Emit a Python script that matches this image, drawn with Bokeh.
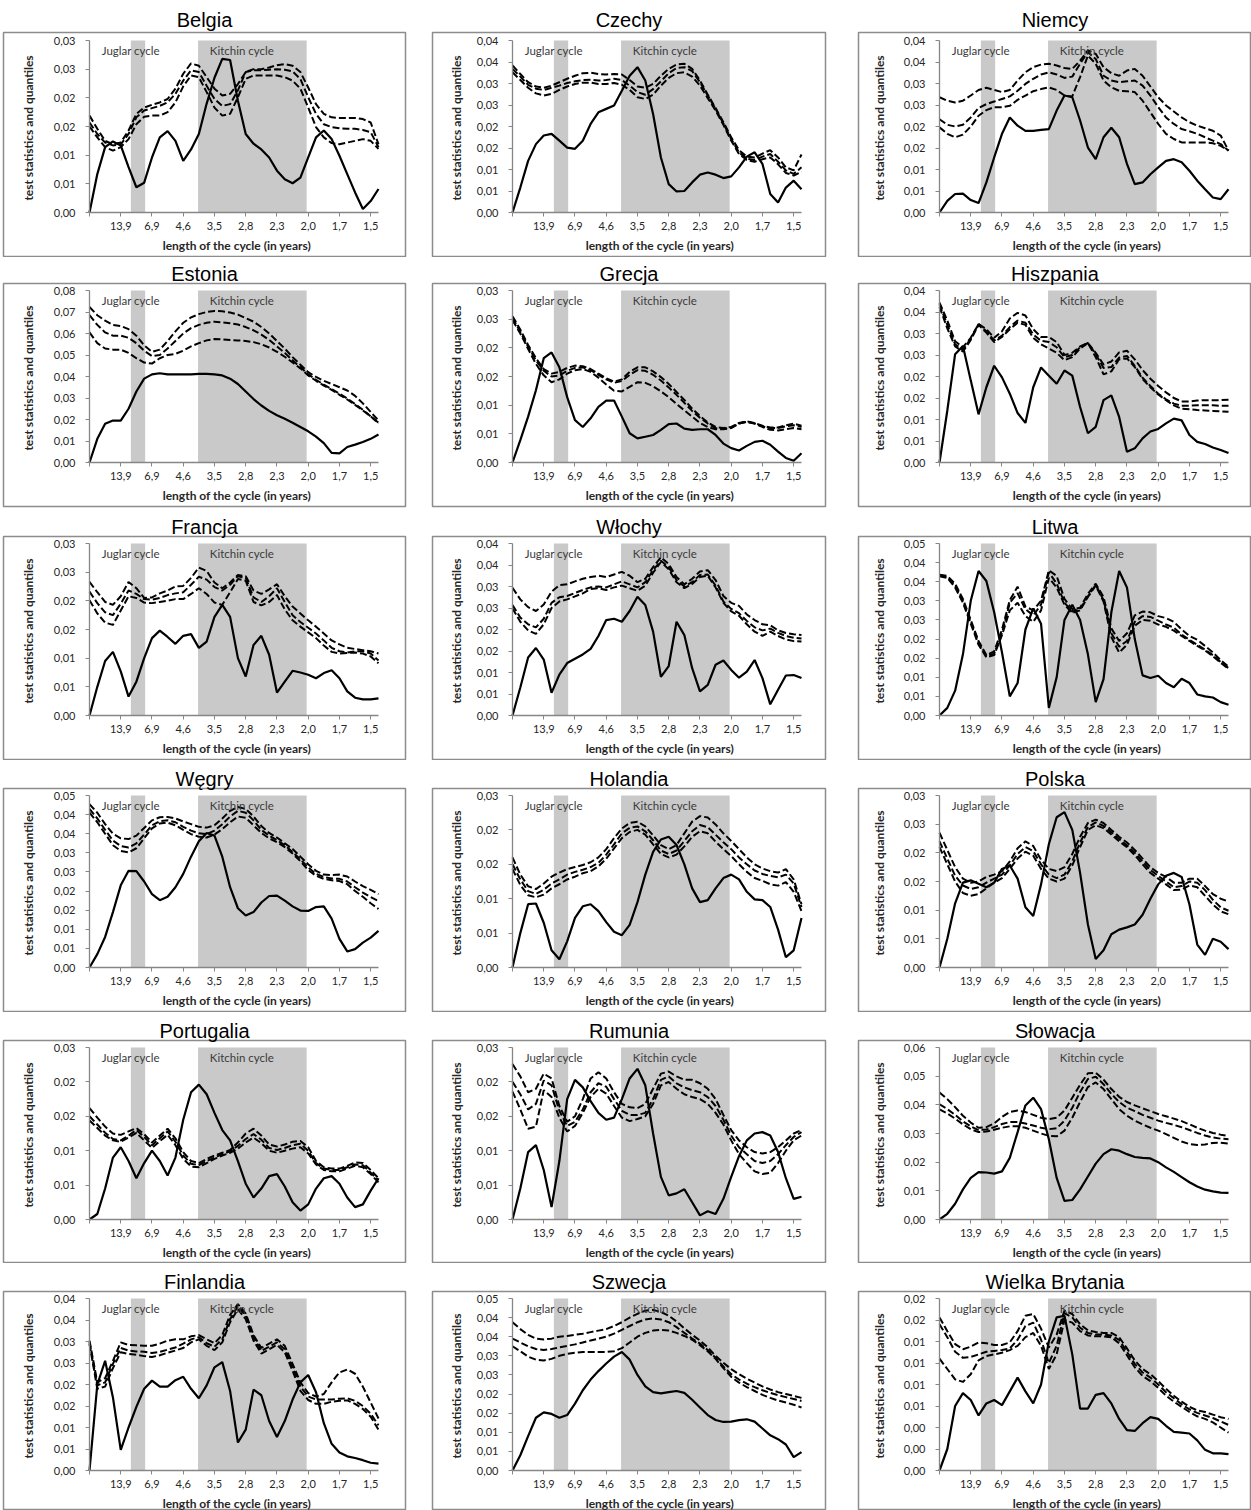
import math

from bokeh.plotting import figure
from bokeh.layouts import column, row
from bokeh.models import Range1d, FixedTicker, Label
from bokeh.embed import file_html
from bokeh.resources import INLINE

# ---------------------------------------------------------------------------
# Frequency grid (cycles per sample span) and the cycle-length axis labels
# ---------------------------------------------------------------------------
FREQ = [0, 0.25, 0.5, 0.75, 1, 1.25, 1.5, 1.75, 2, 2.25, 2.5, 2.75, 3, 3.25,
        3.5, 3.75, 4, 4.25, 4.5, 4.75, 5, 5.25, 5.5, 5.75, 6, 6.25, 6.5, 6.75,
        7, 7.25, 7.5, 7.75, 8, 8.25, 8.5, 8.75, 9, 9.25]
PERIOD_TICKS = [1, 2, 3, 4, 5, 6, 7, 8, 9]
PERIOD_LABELS = ["13,9", "6,9", "4,6", "3,5", "2,8", "2,3", "2,0", "1,7", "1,5"]
SPAN_YEARS = 13.9          # cycle length at frequency 1
JUGLAR_YEARS = (10.5, 7.8)
KITCHIN_YEARS = (4.0, 2.0)

# ---------------------------------------------------------------------------
# Test statistic (solid) and three quantile curves (dashed) per country
# ---------------------------------------------------------------------------
BELGIA_YMAX = 0.03
BELGIA_YTICKS = ["0,00", "0,01", "0,01", "0,02", "0,02", "0,03", "0,03"]
BELGIA_STAT = [0, .0067, .0114, .0124, .0117, .0079, .0044, .0052, .0096, .0131, .0142, .0125, .009, .011, .0137, .019, .0235, .0268, .0266, .0195, .0137, .012, .011, .0096, .0073, .0058, .0051, .0061, .0096, .0131, .0143, .0128, .0099, .0067, .0035, .0006, .002, .0041]
BELGIA_QUP = [.0169, .0146, .0125, .0119, .0122, .0143, .0172, .0183, .0188, .0192, .0198, .0216, .0242, .026, .0256, .0236, .0216, .0204, .0207, .0224, .0245, .025, .025, .0253, .0257, .0259, .0256, .0245, .0218, .0189, .0172, .0166, .0165, .0165, .0165, .0163, .0157, .0119]
BELGIA_QMID = [.0157, .0137, .0122, .0117, .0119, .0137, .0166, .0178, .0182, .0186, .0192, .0207, .023, .0248, .0245, .0221, .0198, .0186, .0189, .0213, .0245, .0248, .0248, .0249, .025, .0249, .0246, .0233, .0201, .0172, .0154, .0149, .0147, .0146, .0146, .0144, .014, .0114]
BELGIA_QLOW = [.015, .0131, .0114, .0108, .0114, .0128, .0154, .0167, .0169, .0169, .0175, .0192, .022, .0239, .0236, .021, .0183, .0169, .0172, .0201, .0233, .0239, .0239, .0239, .0239, .0236, .023, .0216, .0183, .0149, .0131, .0121, .0119, .0122, .0125, .0128, .0125, .0111]

CZECHY_YMAX = 0.04
CZECHY_YTICKS = ["0,00", "0,01", "0,01", "0,02", "0,02", "0,03", "0,03", "0,04", "0,04"]
CZECHY_STAT = [0, .0058, .012, .0159, .0179, .0183, .0167, .0151, .0148, .0167, .0206, .0233, .0241, .0249, .0283, .0318, .0338, .0307, .0229, .0128, .0066, .0049, .005, .007, .0088, .0093, .0088, .008, .0084, .0105, .013, .014, .0113, .0043, .0023, .0058, .0074, .0054]
CZECHY_QUP = [.0342, .0322, .0303, .0293, .029, .0295, .0303, .0311, .0318, .0324, .0325, .0322, .0321, .0322, .0321, .0308, .0293, .029, .0299, .0318, .0334, .0344, .0346, .0334, .0307, .0274, .0243, .021, .0175, .0145, .013, .0128, .0137, .0145, .0128, .0105, .0098, .0135]
CZECHY_QMID = [.0334, .0316, .0297, .0288, .0285, .029, .0295, .0301, .0305, .0308, .0309, .0307, .0308, .0311, .0308, .0295, .028, .0274, .0287, .0305, .0324, .0336, .0338, .0329, .0303, .0272, .0241, .0207, .0171, .014, .0125, .0122, .013, .0136, .0118, .0098, .009, .0105]
CZECHY_QLOW = [.0326, .0308, .029, .0277, .0272, .0276, .0285, .0293, .0299, .0302, .0302, .0299, .0299, .0301, .0297, .0285, .0268, .0264, .0274, .0295, .0313, .0324, .0326, .0316, .0295, .0266, .0237, .0204, .0167, .0136, .0122, .0118, .0124, .0128, .0112, .0092, .0086, .0095]

NIEMCY_YMAX = 0.04
NIEMCY_YTICKS = ["0,00", "0,01", "0,01", "0,02", "0,02", "0,03", "0,03", "0,04", "0,04"]
NIEMCY_STAT = [0, .0027, .0043, .0044, .0029, .0022, .007, .0128, .0183, .0221, .0202, .019, .019, .0192, .0194, .0237, .0272, .0268, .0214, .0151, .0124, .0175, .0197, .0175, .0113, .0066, .007, .0089, .0105, .012, .0124, .0117, .0097, .0074, .0054, .0035, .0031, .0054]
NIEMCY_QUP = [.0268, .026, .0256, .026, .0272, .0285, .029, .0285, .028, .0285, .0307, .0326, .0338, .0344, .0346, .0342, .0336, .0334, .0353, .0377, .0369, .0338, .0324, .0318, .033, .0334, .0318, .0293, .0268, .0249, .0235, .0221, .021, .0202, .0196, .019, .0179, .0144]
NIEMCY_QMID = [.0217, .0204, .02, .0204, .0221, .0243, .0252, .0258, .0264, .027, .0283, .0299, .0311, .0321, .0326, .0321, .0313, .0316, .0346, .0373, .0357, .0318, .0307, .0303, .0305, .0307, .0295, .0272, .0245, .0221, .0206, .0194, .0189, .0183, .0175, .0167, .0159, .0144]
NIEMCY_QLOW = [.0198, .0183, .0175, .0181, .02, .0225, .0238, .0245, .0245, .0248, .0262, .0272, .0282, .0287, .0291, .0285, .0272, .027, .0315, .0365, .0346, .0307, .0291, .0283, .0282, .028, .026, .0233, .0206, .0183, .0171, .0163, .0163, .0163, .0163, .0161, .0155, .0144]

ESTONIA_YMAX = 0.08
ESTONIA_YTICKS = ["0,00", "0,01", "0,02", "0,03", "0,04", "0,05", "0,06", "0,07", "0,08"]
ESTONIA_STAT = [0, .011, .018, .0195, .0195, .025, .033, .039, .041, .0415, .041, .041, .041, .041, .0412, .0412, .041, .0405, .039, .0365, .033, .0295, .0265, .024, .022, .0203, .0185, .0165, .0145, .012, .009, .0045, .0042, .0072, .0083, .0095, .011, .013]
ESTONIA_QUP = [.0723, .0685, .066, .064, .0635, .062, .059, .0545, .0515, .0525, .0565, .061, .065, .0675, .069, .07, .0705, .0703, .0698, .0688, .0672, .0655, .063, .06, .0565, .053, .049, .0455, .042, .0398, .038, .0365, .035, .0335, .031, .0275, .0235, .0195]
ESTONIA_QMID = [.0685, .064, .0605, .059, .059, .058, .0555, .052, .0495, .05, .053, .0565, .06, .0625, .064, .065, .0655, .0652, .0648, .0642, .063, .0615, .0595, .057, .054, .051, .0475, .0443, .041, .0385, .0362, .0342, .032, .0298, .0272, .0245, .0215, .0185]
ESTONIA_QLOW = [.0605, .0555, .053, .0525, .0525, .051, .0485, .0465, .046, .0485, .05, .0505, .052, .054, .0555, .0568, .0574, .0573, .057, .0568, .0565, .056, .055, .0535, .0515, .0492, .0465, .0438, .0405, .038, .0358, .0338, .0315, .0293, .0268, .0242, .0215, .0182]

GRECJA_YMAX = 0.03
GRECJA_YTICKS = ["0,00", "0,01", "0,01", "0,02", "0,02", "0,03", "0,03"]
GRECJA_STAT = [0, .0039, .008, .0126, .0182, .0192, .0166, .0114, .0074, .0062, .0077, .0097, .0108, .0108, .008, .0051, .0042, .0045, .0048, .0057, .0067, .0068, .0059, .0057, .0058, .0058, .0048, .0033, .0025, .0021, .0029, .0036, .0038, .0031, .0019, .0008, .0003, .0016]
GRECJA_QUP = [.0255, .0232, .0205, .0182, .0163, .0155, .0158, .0165, .0169, .0168, .0163, .0155, .0147, .0141, .0145, .0158, .0166, .0166, .0159, .0149, .0137, .0123, .0109, .0094, .0081, .007, .0062, .006, .0062, .0069, .0072, .0069, .0064, .0061, .0061, .0065, .0068, .0064]
GRECJA_QMID = [.0252, .0228, .0202, .0178, .016, .015, .0152, .016, .0165, .0166, .0161, .0153, .0145, .0139, .0142, .0153, .0161, .016, .0153, .0143, .0131, .0118, .0104, .009, .0078, .0068, .006, .0059, .0061, .0068, .0071, .0068, .0063, .006, .006, .0063, .0065, .0062]
GRECJA_QLOW = [.0248, .0225, .0198, .0172, .0152, .014, .0145, .0155, .0161, .0163, .0158, .0148, .0136, .0125, .0124, .0132, .014, .0139, .0133, .0124, .0114, .0102, .0091, .008, .0069, .0062, .0058, .0058, .006, .0068, .0071, .0068, .0062, .0057, .0056, .0058, .006, .0058]

HISZPANIA_YMAX = 0.04
HISZPANIA_YTICKS = ["0,00", "0,01", "0,01", "0,02", "0,02", "0,03", "0,03", "0,04", "0,04"]
HISZPANIA_STAT = [0, .0121, .0252, .0271, .0191, .0112, .0175, .0225, .0198, .016, .0115, .0092, .0175, .0221, .0202, .0183, .0214, .0202, .0129, .0068, .0083, .0145, .0156, .0106, .0025, .0033, .0056, .0072, .0078, .0091, .0102, .0098, .0064, .0048, .0043, .0035, .0029, .0022]
HISZPANIA_QUP = [.0372, .033, .0282, .0268, .029, .0322, .031, .029, .0305, .0335, .0348, .0342, .031, .0292, .0292, .028, .025, .0255, .027, .0278, .0255, .0228, .0235, .0256, .026, .024, .0215, .0195, .0178, .0163, .015, .0142, .0142, .0144, .0145, .0145, .0145, .0146]
HISZPANIA_QMID = [.0368, .032, .0275, .0262, .0288, .0322, .0305, .0284, .0295, .0315, .033, .0325, .0298, .0283, .028, .0268, .0245, .025, .0268, .0278, .0252, .022, .0222, .0244, .0248, .0225, .0197, .0178, .016, .0147, .0137, .0132, .0132, .0133, .0133, .0133, .0132, .0132]
HISZPANIA_QLOW = [.0362, .0312, .027, .0258, .0285, .032, .0302, .028, .0292, .031, .0325, .032, .029, .0275, .0265, .0255, .0238, .0245, .0265, .0278, .0245, .0205, .0212, .024, .0242, .0222, .0194, .0175, .0158, .0145, .0133, .0125, .0124, .0122, .0121, .012, .0119, .0118]

FRANCJA_YMAX = 0.03
FRANCJA_YTICKS = ["0,00", "0,01", "0,01", "0,02", "0,02", "0,03", "0,03"]
FRANCJA_STAT = [0, .005, .0095, .0111, .0077, .0033, .0059, .01, .0135, .0148, .0137, .0125, .0139, .0142, .0118, .0129, .0172, .0193, .0172, .01, .0068, .0123, .0139, .0106, .004, .0059, .0078, .0075, .0071, .0065, .0074, .0079, .0065, .0042, .0031, .0028, .0028, .003]
FRANCJA_QUP = [.0233, .0215, .0198, .0193, .0208, .0233, .0222, .0205, .0206, .0213, .0218, .0225, .0226, .024, .0258, .0252, .0232, .0222, .0232, .0245, .0243, .0218, .0212, .022, .0229, .0208, .019, .0178, .0166, .0155, .0143, .0131, .0124, .0118, .0116, .0114, .0112, .0108]
FRANCJA_QMID = [.0216, .0196, .018, .0175, .0195, .0218, .0212, .0203, .0202, .0205, .021, .0213, .0215, .0228, .0242, .0237, .0224, .0218, .0228, .0243, .024, .0206, .0198, .0208, .0222, .0198, .0175, .0163, .0153, .0143, .0131, .0118, .0112, .011, .0112, .0112, .0108, .0096]
FRANCJA_QLOW = [.0201, .0178, .0162, .0158, .0183, .0208, .0205, .0197, .0196, .0198, .02, .0203, .0203, .0212, .0222, .0212, .0197, .0193, .0215, .0238, .0235, .0198, .0192, .0198, .021, .0185, .0166, .0155, .0145, .0135, .0122, .0111, .0108, .0109, .011, .0108, .0103, .0091]

WLOCHY_YMAX = 0.04
WLOCHY_YTICKS = ["0,00", "0,01", "0,01", "0,02", "0,02", "0,03", "0,03", "0,04", "0,04"]
WLOCHY_STAT = [0, .0065, .0135, .0157, .013, .0053, .0095, .0122, .0132, .0142, .0155, .0185, .0222, .0225, .0218, .0243, .0276, .0257, .0195, .009, .0115, .0218, .0187, .011, .0056, .0071, .0118, .0128, .0106, .0088, .0102, .0129, .0087, .0026, .006, .0093, .0094, .0087]
WLOCHY_QUP = [.0297, .027, .0252, .0243, .0258, .0288, .0303, .0305, .0312, .0318, .0322, .0325, .0322, .0328, .0334, .0325, .031, .0318, .0345, .0368, .0352, .0322, .0305, .0318, .0335, .0338, .0315, .0278, .0262, .0255, .0235, .0222, .0212, .021, .0198, .0192, .0189, .0187]
WLOCHY_QMID = [.0257, .0228, .0212, .0205, .0225, .0262, .0275, .0278, .0285, .0292, .0298, .03, .0298, .0305, .0312, .0305, .0298, .031, .0338, .036, .0345, .0315, .03, .031, .0327, .0328, .0302, .0265, .0248, .0238, .022, .0205, .0198, .0202, .0192, .0185, .0181, .0179]
WLOCHY_QLOW = [.0249, .0218, .0198, .019, .0212, .025, .0265, .027, .0277, .0284, .0294, .0296, .0292, .0298, .0302, .0296, .029, .0302, .0332, .0357, .034, .031, .0296, .0306, .0322, .0325, .0298, .0262, .0242, .0232, .0212, .0195, .0185, .0195, .0185, .0177, .0173, .0172]

LITWA_YMAX = 0.045
LITWA_YTICKS = ["0,00", "0,01", "0,01", "0,02", "0,02", "0,03", "0,03", "0,04", "0,04", "0,05"]
LITWA_STAT = [0, .002, .0065, .016, .03, .0378, .0352, .027, .0165, .005, .0085, .0225, .028, .024, .002, .01, .025, .029, .025, .016, .0035, .0095, .027, .0378, .0335, .02, .0105, .0098, .0104, .0085, .0074, .0096, .0085, .0055, .005, .0047, .0035, .0028]
LITWA_QUP = [.0368, .0365, .0345, .0305, .025, .0195, .0158, .0168, .0225, .0302, .0337, .0285, .0275, .03, .038, .0365, .0305, .0278, .0282, .0318, .0345, .031, .0228, .0195, .0215, .0262, .0272, .027, .026, .0255, .0245, .0225, .0208, .0198, .0182, .0165, .0145, .0128]
LITWA_QMID = [.0366, .0362, .034, .03, .0245, .019, .0155, .0162, .0215, .0295, .032, .0278, .0262, .029, .0375, .0345, .0295, .0272, .0278, .0312, .0342, .0302, .0215, .018, .0195, .0245, .026, .0258, .0248, .0238, .023, .0212, .0198, .0185, .0172, .0158, .014, .0124]
LITWA_QLOW = [.0364, .036, .0335, .0295, .024, .0185, .0152, .0158, .021, .0275, .0295, .026, .0245, .0275, .036, .0335, .029, .0268, .0275, .031, .034, .0298, .0205, .0165, .0185, .0235, .025, .0248, .0238, .0232, .0222, .0208, .0195, .0182, .017, .0155, .0138, .0122]

WEGRY_YMAX = 0.045
WEGRY_YTICKS = ["0,00", "0,01", "0,01", "0,02", "0,02", "0,03", "0,03", "0,04", "0,04", "0,05"]
WEGRY_STAT = [0, .0035, .008, .0145, .0215, .0253, .0252, .0225, .0192, .0176, .0185, .021, .0245, .029, .033, .0352, .0345, .029, .021, .0155, .0136, .0145, .017, .0187, .0188, .0175, .016, .0149, .0148, .0158, .016, .0128, .0075, .0042, .0048, .0065, .0078, .0096]
WEGRY_QUP = [.0427, .0405, .0375, .035, .0338, .0336, .0345, .0365, .0385, .0393, .0394, .039, .0382, .0375, .0368, .0366, .0372, .039, .041, .042, .0415, .0395, .037, .0352, .034, .0325, .031, .029, .027, .0253, .0243, .0242, .0243, .0238, .0225, .0213, .0203, .0192]
WEGRY_QMID = [.0415, .039, .036, .0332, .0318, .0314, .0325, .0348, .0372, .0383, .0385, .038, .0368, .0358, .0351, .0349, .0358, .0375, .0395, .041, .0405, .0385, .036, .0345, .0333, .032, .0302, .0283, .0262, .0245, .0237, .0233, .0232, .0225, .021, .0196, .0184, .0174]
WEGRY_QLOW = [.0405, .038, .035, .032, .0305, .0301, .0312, .0338, .0364, .0377, .0379, .0372, .036, .0349, .0342, .034, .0348, .0362, .038, .0395, .0392, .0372, .0352, .0338, .0328, .0315, .0298, .0278, .0255, .024, .0232, .0228, .0226, .0218, .02, .0185, .0168, .0153]

HOLANDIA_YMAX = 0.025
HOLANDIA_YTICKS = ["0,00", "0,01", "0,01", "0,02", "0,02", "0,03"]
HOLANDIA_STAT = [0, .005, .0092, .0093, .0065, .0025, .0012, .0038, .0072, .0089, .0092, .0082, .0066, .0052, .0047, .0062, .0095, .0135, .0168, .0186, .019, .0178, .015, .0115, .0095, .0098, .0115, .013, .0135, .0128, .011, .0099, .0098, .0088, .0055, .0015, .0025, .0072]
HOLANDIA_QUP = [.016, .0135, .0118, .0114, .0122, .0132, .0138, .0143, .0146, .0149, .0153, .016, .0172, .0188, .0202, .021, .0212, .0205, .0192, .0178, .0172, .0178, .0195, .0212, .022, .0218, .0208, .0195, .0184, .0172, .016, .015, .0144, .014, .0138, .0143, .0128, .0092]
HOLANDIA_QMID = [.015, .0128, .0111, .0107, .0113, .0122, .0128, .0135, .0139, .0142, .0146, .0152, .0164, .0179, .0195, .0203, .0205, .0198, .0185, .017, .0165, .017, .0184, .0198, .0207, .0204, .0193, .0182, .0172, .016, .015, .0141, .0136, .0133, .0131, .0135, .0122, .0088]
HOLANDIA_QLOW = [.0143, .012, .0105, .0102, .0106, .0115, .0121, .0128, .0132, .0137, .014, .0147, .0158, .0173, .0188, .0197, .02, .0193, .0179, .0165, .016, .0164, .0176, .019, .0198, .0195, .0183, .0172, .0162, .015, .0139, .013, .0126, .0121, .0119, .0124, .011, .0082]

POLSKA_YMAX = 0.03
POLSKA_YTICKS = ["0,00", "0,01", "0,01", "0,02", "0,02", "0,03", "0,03"]
POLSKA_STAT = [0, .005, .0112, .0148, .0152, .0146, .014, .0148, .0172, .0178, .0155, .0105, .009, .0145, .0215, .0262, .0271, .024, .0165, .0075, .0015, .003, .0058, .0066, .007, .0075, .0092, .012, .0145, .016, .0165, .0158, .011, .004, .0022, .005, .0045, .0032]
POLSKA_QUP = [.0235, .0205, .0175, .0155, .0148, .015, .0158, .0162, .0168, .0185, .0208, .022, .0212, .0188, .0172, .0168, .0175, .0198, .0228, .0252, .0258, .0252, .024, .0228, .0218, .0205, .019, .0175, .0165, .0158, .0148, .0148, .0155, .0155, .0142, .0128, .012, .0115]
POLSKA_QMID = [.022, .019, .016, .0143, .0137, .014, .0148, .0155, .0162, .0178, .0198, .021, .0203, .018, .0162, .0156, .0162, .0185, .0218, .0245, .0253, .0247, .0236, .0224, .0213, .02, .0185, .017, .016, .015, .014, .0142, .015, .0148, .0135, .0118, .0105, .0099]
POLSKA_QLOW = [.021, .018, .015, .013, .0125, .0128, .0138, .0148, .0156, .0172, .019, .0202, .0195, .0172, .0155, .015, .0155, .0178, .021, .024, .0248, .0243, .0232, .022, .021, .0196, .018, .0165, .0155, .0145, .0135, .0136, .0143, .014, .0125, .011, .0098, .0093]

PORTUGALIA_YMAX = 0.025
PORTUGALIA_YTICKS = ["0,00", "0,01", "0,01", "0,02", "0,02", "0,03"]
PORTUGALIA_STAT = [0, .0008, .0045, .009, .0105, .0085, .006, .0082, .01, .0085, .0064, .009, .0145, .0185, .0196, .0182, .0155, .013, .0115, .0085, .0052, .0032, .0045, .0063, .0066, .0048, .0025, .0013, .0022, .0045, .006, .0063, .0052, .0032, .0018, .0022, .0042, .006]
PORTUGALIA_QUP = [.0162, .0148, .0135, .0125, .0123, .0128, .0133, .0124, .0112, .0122, .0132, .0118, .0098, .0085, .0082, .0088, .0093, .0097, .0101, .0112, .0125, .0132, .0122, .0109, .0106, .0109, .0113, .0114, .0105, .0085, .0076, .0074, .0074, .0078, .0083, .0082, .0072, .006]
PORTUGALIA_QMID = [.015, .0138, .0126, .0117, .0115, .0122, .013, .012, .0108, .0118, .0128, .0113, .0093, .0081, .0079, .0085, .009, .0095, .0099, .0107, .0117, .0124, .0116, .0104, .0101, .0104, .0108, .011, .01, .0082, .0074, .0072, .0072, .0076, .008, .0079, .0068, .0057]
PORTUGALIA_QLOW = [.0144, .0133, .0122, .0115, .0113, .0119, .0126, .0115, .0104, .0114, .0123, .0108, .0088, .0077, .0076, .0082, .0088, .0093, .0097, .0103, .0112, .0119, .0111, .01, .0097, .01, .0103, .0105, .0096, .008, .0072, .007, .007, .0074, .0078, .0076, .0066, .0054]

RUMUNIA_YMAX = 0.025
RUMUNIA_YTICKS = ["0,00", "0,01", "0,01", "0,02", "0,02", "0,03"]
RUMUNIA_STAT = [0, .0045, .0098, .0108, .0072, .0018, .0085, .0175, .0203, .0192, .0172, .0155, .0145, .0148, .0175, .0205, .0219, .0195, .0125, .0062, .0035, .0038, .0044, .0025, .0006, .0012, .0008, .003, .0062, .0092, .0115, .0125, .0127, .0122, .0098, .006, .003, .0033]
RUMUNIA_QUP = [.0226, .0208, .0185, .019, .0212, .0205, .0165, .0142, .015, .0175, .0205, .0214, .0205, .0185, .0168, .0163, .0162, .0168, .019, .0212, .0215, .0208, .0203, .0203, .0198, .019, .0175, .0152, .013, .0115, .0105, .0098, .0096, .0098, .0105, .0115, .0125, .013]
RUMUNIA_QMID = [.02, .0182, .016, .0168, .0202, .0195, .0158, .0136, .0142, .016, .0185, .0198, .0193, .0175, .0158, .0152, .0152, .0155, .0175, .0203, .0208, .0198, .0192, .0188, .0185, .0178, .0165, .0145, .0122, .0105, .0095, .0085, .0082, .0085, .0095, .0108, .012, .0127]
RUMUNIA_QLOW = [.0186, .016, .0132, .0135, .0188, .0178, .0148, .0128, .0136, .0155, .0178, .019, .0183, .0165, .0148, .0143, .0146, .015, .0168, .0195, .02, .019, .0182, .0178, .0175, .0168, .0155, .0138, .0115, .0095, .0082, .007, .0066, .0068, .0082, .01, .0115, .0122]

SLOWACJA_YMAX = 0.06
SLOWACJA_YTICKS = ["0,00", "0,01", "0,02", "0,03", "0,04", "0,05", "0,06"]
SLOWACJA_STAT = [0, .002, .0055, .0105, .0145, .0165, .0164, .016, .0168, .0215, .0305, .0398, .0425, .0385, .028, .0145, .0065, .0068, .0105, .015, .0195, .0228, .0245, .024, .0228, .0218, .0215, .0213, .02, .0182, .0166, .0148, .013, .0115, .0104, .0098, .0094, .0093]
SLOWACJA_QUP = [.0443, .042, .0392, .0362, .0338, .032, .0322, .0335, .0358, .0375, .038, .0375, .0365, .0355, .035, .0355, .038, .0425, .047, .051, .0512, .0488, .0455, .0428, .041, .0398, .0388, .0378, .0368, .036, .0352, .0343, .0332, .032, .031, .0302, .0296, .0291]
SLOWACJA_QMID = [.0402, .0385, .0365, .0342, .0325, .0312, .0314, .0322, .0333, .034, .034, .0335, .0328, .032, .0315, .0318, .0345, .039, .0445, .049, .0498, .0472, .0438, .041, .039, .0378, .0365, .0355, .0345, .0337, .033, .0322, .0312, .0302, .0293, .0286, .0282, .028]
SLOWACJA_QLOW = [.0384, .037, .0352, .0332, .0315, .0305, .0307, .0313, .032, .0325, .0325, .032, .031, .03, .0292, .029, .031, .0355, .041, .0462, .0478, .0455, .042, .0385, .0362, .0345, .0332, .032, .031, .0298, .0285, .0272, .0263, .026, .0262, .0267, .0268, .0265]

FINLANDIA_YMAX = 0.04
FINLANDIA_YTICKS = ["0,00", "0,01", "0,01", "0,02", "0,02", "0,03", "0,03", "0,04", "0,04"]
FINLANDIA_STAT = [0, .02, .0255, .017, .0048, .01, .0148, .019, .0209, .0195, .0195, .021, .0218, .019, .0168, .0198, .024, .0252, .0185, .0065, .0095, .0188, .0175, .0115, .0078, .0115, .0165, .0205, .0222, .0182, .011, .0062, .0042, .0033, .0029, .0024, .0018, .0016]
FINLANDIA_QUP = [.0302, .0205, .0215, .0255, .0298, .0292, .0291, .029, .029, .0295, .0302, .0305, .0305, .0312, .0315, .0305, .0296, .0315, .0362, .0387, .0365, .0315, .0285, .0295, .0305, .029, .0248, .0205, .018, .0172, .0178, .0205, .0228, .0235, .0225, .0195, .0158, .0121]
FINLANDIA_QMID = [.0298, .0198, .0205, .0248, .0285, .0279, .0277, .0276, .0273, .0276, .0281, .0286, .0295, .0305, .031, .0296, .0288, .0305, .0352, .0382, .036, .031, .0278, .0288, .0298, .0282, .024, .0195, .0172, .0165, .0165, .0165, .0167, .0168, .0162, .015, .0132, .0105]
FINLANDIA_QLOW = [.0294, .019, .0195, .0238, .0275, .0271, .0269, .0266, .0264, .0268, .0274, .0279, .0285, .0298, .0305, .029, .028, .0298, .0345, .0375, .0352, .0302, .0272, .0282, .0292, .0275, .0232, .0185, .0164, .0155, .0155, .016, .0162, .0163, .0155, .0143, .0125, .0095]

SZWECJA_YMAX = 0.045
SZWECJA_YTICKS = ["0,00", "0,01", "0,01", "0,02", "0,02", "0,03", "0,03", "0,04", "0,04", "0,05"]
SZWECJA_STAT = [0, .004, .009, .0138, .0152, .0148, .0138, .0145, .0175, .021, .0238, .026, .028, .0298, .031, .029, .025, .022, .0205, .0202, .0205, .0208, .0203, .0185, .0165, .0145, .0132, .0127, .0128, .0132, .0134, .0128, .011, .0092, .0082, .0068, .0035, .0048]
SZWECJA_QUP = [.0388, .037, .0355, .0345, .0343, .0345, .035, .0352, .0355, .0358, .0362, .0366, .037, .0378, .0388, .04, .041, .0418, .042, .0415, .0405, .039, .0372, .0355, .034, .0322, .03, .0282, .0265, .0252, .024, .023, .022, .0212, .0205, .02, .0195, .019]
SZWECJA_QMID = [.0345, .0335, .0325, .0318, .0315, .0318, .0322, .0326, .033, .0335, .034, .0345, .035, .0358, .0368, .0378, .0388, .0395, .0398, .0395, .0388, .0375, .036, .0345, .0332, .0315, .0295, .0272, .0252, .0238, .0227, .0218, .021, .0203, .0197, .0192, .0187, .0182]
SZWECJA_QLOW = [.0325, .0312, .0298, .029, .0288, .0292, .03, .0305, .0308, .031, .031, .031, .031, .0312, .032, .0335, .035, .036, .0366, .0368, .0366, .036, .0352, .0342, .0328, .0312, .0292, .0268, .0245, .023, .0218, .0208, .0198, .019, .0183, .0178, .0172, .0165]

WIELKA_BRYTANIA_YMAX = 0.02
WIELKA_BRYTANIA_YTICKS = ["0,00", "0,00", "0,00", "0,01", "0,01", "0,01", "0,01", "0,02", "0,02"]
WIELKA_BRYTANIA_STAT = [0, .0025, .0075, .009, .0082, .0064, .0078, .0082, .0076, .0092, .0108, .0092, .0078, .01, .015, .0178, .018, .0135, .0072, .0072, .0088, .009, .0078, .006, .0047, .0046, .0055, .0062, .006, .0052, .0045, .0044, .0043, .0035, .0024, .002, .002, .0019]
WIELKA_BRYTANIA_QUP = [.0178, .0162, .0147, .0141, .0144, .0149, .0148, .0146, .0146, .0149, .0162, .018, .0182, .0165, .0143, .0158, .0186, .0182, .017, .0163, .0161, .016, .016, .0155, .0142, .0128, .0118, .0112, .0104, .0095, .0087, .008, .0074, .007, .0068, .0065, .0062, .006]
WIELKA_BRYTANIA_QMID = [.017, .0155, .0138, .0131, .0132, .0135, .0138, .0139, .014, .0142, .0152, .0168, .0172, .0152, .0125, .0145, .0183, .0178, .0166, .016, .0158, .0158, .0157, .0152, .0138, .0124, .0114, .0108, .01, .0091, .0084, .0077, .0071, .0067, .0064, .0061, .0057, .0053]
WIELKA_BRYTANIA_QLOW = [.013, .0118, .0106, .0103, .0112, .0128, .0133, .0135, .0137, .014, .0145, .0155, .016, .0145, .0118, .0135, .0175, .0172, .0162, .0157, .0156, .0156, .0155, .0148, .0134, .012, .011, .0104, .0096, .0087, .008, .0074, .0068, .0063, .006, .0056, .005, .0044]

PANELS = [
    ("Belgia", BELGIA_YMAX, BELGIA_YTICKS, BELGIA_STAT, (BELGIA_QUP, BELGIA_QMID, BELGIA_QLOW)),
    ("Czechy", CZECHY_YMAX, CZECHY_YTICKS, CZECHY_STAT, (CZECHY_QUP, CZECHY_QMID, CZECHY_QLOW)),
    ("Niemcy", NIEMCY_YMAX, NIEMCY_YTICKS, NIEMCY_STAT, (NIEMCY_QUP, NIEMCY_QMID, NIEMCY_QLOW)),
    ("Estonia", ESTONIA_YMAX, ESTONIA_YTICKS, ESTONIA_STAT, (ESTONIA_QUP, ESTONIA_QMID, ESTONIA_QLOW)),
    ("Grecja", GRECJA_YMAX, GRECJA_YTICKS, GRECJA_STAT, (GRECJA_QUP, GRECJA_QMID, GRECJA_QLOW)),
    ("Hiszpania", HISZPANIA_YMAX, HISZPANIA_YTICKS, HISZPANIA_STAT, (HISZPANIA_QUP, HISZPANIA_QMID, HISZPANIA_QLOW)),
    ("Francja", FRANCJA_YMAX, FRANCJA_YTICKS, FRANCJA_STAT, (FRANCJA_QUP, FRANCJA_QMID, FRANCJA_QLOW)),
    ("Włochy", WLOCHY_YMAX, WLOCHY_YTICKS, WLOCHY_STAT, (WLOCHY_QUP, WLOCHY_QMID, WLOCHY_QLOW)),
    ("Litwa", LITWA_YMAX, LITWA_YTICKS, LITWA_STAT, (LITWA_QUP, LITWA_QMID, LITWA_QLOW)),
    ("Węgry", WEGRY_YMAX, WEGRY_YTICKS, WEGRY_STAT, (WEGRY_QUP, WEGRY_QMID, WEGRY_QLOW)),
    ("Holandia", HOLANDIA_YMAX, HOLANDIA_YTICKS, HOLANDIA_STAT, (HOLANDIA_QUP, HOLANDIA_QMID, HOLANDIA_QLOW)),
    ("Polska", POLSKA_YMAX, POLSKA_YTICKS, POLSKA_STAT, (POLSKA_QUP, POLSKA_QMID, POLSKA_QLOW)),
    ("Portugalia", PORTUGALIA_YMAX, PORTUGALIA_YTICKS, PORTUGALIA_STAT, (PORTUGALIA_QUP, PORTUGALIA_QMID, PORTUGALIA_QLOW)),
    ("Rumunia", RUMUNIA_YMAX, RUMUNIA_YTICKS, RUMUNIA_STAT, (RUMUNIA_QUP, RUMUNIA_QMID, RUMUNIA_QLOW)),
    ("Słowacja", SLOWACJA_YMAX, SLOWACJA_YTICKS, SLOWACJA_STAT, (SLOWACJA_QUP, SLOWACJA_QMID, SLOWACJA_QLOW)),
    ("Finlandia", FINLANDIA_YMAX, FINLANDIA_YTICKS, FINLANDIA_STAT, (FINLANDIA_QUP, FINLANDIA_QMID, FINLANDIA_QLOW)),
    ("Szwecja", SZWECJA_YMAX, SZWECJA_YTICKS, SZWECJA_STAT, (SZWECJA_QUP, SZWECJA_QMID, SZWECJA_QLOW)),
    ("Wielka Brytania", WIELKA_BRYTANIA_YMAX, WIELKA_BRYTANIA_YTICKS, WIELKA_BRYTANIA_STAT,
     (WIELKA_BRYTANIA_QUP, WIELKA_BRYTANIA_QMID, WIELKA_BRYTANIA_QLOW)),
]

# ---------------------------------------------------------------------------
# Page geometry (pixels).  Each figure's frame is the bordered panel box; the
# data area (axes) sits inside it at a fixed pixel offset.
# ---------------------------------------------------------------------------
FIG_W = 417
PLOT_W = 289               # data area width
PLOT_H = 172               # data area height
X_MAX = 9.25
BOX_LEFT = [3, 15, 24]     # panel box inside each column figure
BOX_RIGHT = [405, 408, 417]
PLOT_X0 = [86, 80, 81]     # data area left edge, measured from the box edge
YLAB_DX = [-61, -56, -60]  # rotated axis title centre, relative to the y axis
ROW_H = [257, 252, 251, 252, 251, 247]
BOX_TOP = [32, 26, 27, 28, 28, 28]   # box top inside each row figure
BOX_UP = [8, 7, 7, 7, 7, 7]          # box top above the data area
BOX_DOWN = [44, 44, 44, 44, 44, 40]  # box bottom below the x axis
TITLE_STANDOFF = [3, -3, -3, -3, -3, -3]

U_PER_PX = X_MAX / PLOT_W
AXIS_GREY = "#868686"
BAND_GREY = "#c9c9c9"
TEXT_DARK = "#262626"
UI_FONT = "Lato"


def make_panel(idx, name, ymax, ylabels, stat, quantiles):
    r, c = divmod(idx, 3)
    h = ROW_H[r]
    y_per_px = ymax / PLOT_H
    box_w = BOX_RIGHT[c] - BOX_LEFT[c]
    box_h = PLOT_H + BOX_UP[r] + BOX_DOWN[r]
    x_lo = -PLOT_X0[c] * U_PER_PX
    x_hi = (box_w - PLOT_X0[c]) * U_PER_PX
    y_lo = -BOX_DOWN[r] * y_per_px
    y_hi = ymax + BOX_UP[r] * y_per_px

    p = figure(width=FIG_W, height=h,
               x_range=Range1d(x_lo, x_hi), y_range=Range1d(y_lo, y_hi),
               min_border_left=BOX_LEFT[c], min_border_right=FIG_W - BOX_RIGHT[c],
               min_border_top=BOX_TOP[r], min_border_bottom=h - BOX_TOP[r] - box_h,
               title=name, toolbar_location=None, output_backend="svg")
    p.outline_line_color = "#8c8c8c"
    p.outline_line_width = 1.5
    p.xgrid.visible = False
    p.ygrid.visible = False
    p.background_fill_color = "white"
    p.border_fill_color = "white"

    p.title.align = "center"
    p.title.text_font = "Liberation Sans"
    p.title.text_font_size = "20px"
    p.title.text_font_style = "normal"
    p.title.text_color = "black"
    p.title.standoff = TITLE_STANDOFF[r]

    # cycle bands
    jl, jr = SPAN_YEARS / JUGLAR_YEARS[0], SPAN_YEARS / JUGLAR_YEARS[1]
    kl, kr = SPAN_YEARS / KITCHIN_YEARS[0], SPAN_YEARS / KITCHIN_YEARS[1]
    p.quad(left=[jl, kl], right=[jr, kr], bottom=[0, 0], top=[ymax, ymax],
           fill_color=BAND_GREY, line_color=None)

    for q in quantiles:
        p.line(FREQ, q, line_color="black", line_width=2, line_dash="7 3")
    p.line(FREQ, stat, line_color="black", line_width=2.2)

    # axes pinned at the origin of the data area
    p.xaxis.fixed_location = 0
    p.yaxis.fixed_location = 0
    p.xaxis.bounds = (0, X_MAX)
    p.yaxis.bounds = (0, ymax)
    p.xaxis.ticker = FixedTicker(ticks=[0] + PERIOD_TICKS)
    overrides = {0: ""}
    overrides.update({t: lab for t, lab in zip(PERIOD_TICKS, PERIOD_LABELS)})
    p.xaxis.major_label_overrides = overrides
    n = len(ylabels)
    yt = [ymax * i / (n - 1) for i in range(n)]
    p.yaxis.ticker = FixedTicker(ticks=yt)
    p.yaxis.major_label_overrides = {v: lab for v, lab in zip(yt, ylabels)}

    for ax in (p.xaxis[0], p.yaxis[0]):
        ax.axis_line_color = AXIS_GREY
        ax.axis_line_width = 1.3
        ax.major_tick_line_color = AXIS_GREY
        ax.minor_tick_line_color = None
        ax.major_tick_in = 0
        ax.major_tick_out = 4
        ax.major_label_text_font = UI_FONT
        ax.major_label_text_font_size = "11px"
        ax.major_label_text_color = TEXT_DARK
    p.xaxis.major_label_standoff = 5
    p.yaxis.major_label_standoff = 10

    # axis titles
    p.add_layout(Label(x=X_MAX / 2 + 3 * U_PER_PX, y=-33 * y_per_px,
                       text="length of the cycle (in years)", text_font=UI_FONT,
                       text_font_size="12px", text_font_style="bold", text_color=TEXT_DARK,
                       text_align="center", text_baseline="middle"))
    p.add_layout(Label(x=YLAB_DX[c] * U_PER_PX, y=ymax / 2 - 1.5 * y_per_px,
                       text="test statistics and quantiles", angle=math.pi / 2,
                       text_font=UI_FONT, text_font_size="12px", text_font_style="bold",
                       text_color=TEXT_DARK, text_align="center", text_baseline="middle"))

    # band captions
    cap_y = ymax - 10 * y_per_px
    for x, txt in ((0.39, "Juglar cycle"), (3.85, "Kitchin cycle")):
        p.add_layout(Label(x=x, y=cap_y, text=txt, text_font=UI_FONT,
                           text_font_size="11.5px", text_color="#3a3a3a",
                           text_baseline="middle", text_align="left"))
    return p


figs = [make_panel(i, *panel) for i, panel in enumerate(PANELS)]
layout = column(*[row(*figs[i:i + 3]) for i in range(0, len(figs), 3)])

open("out.html", "w").write(file_html(layout, INLINE, "Cycle tests"))
